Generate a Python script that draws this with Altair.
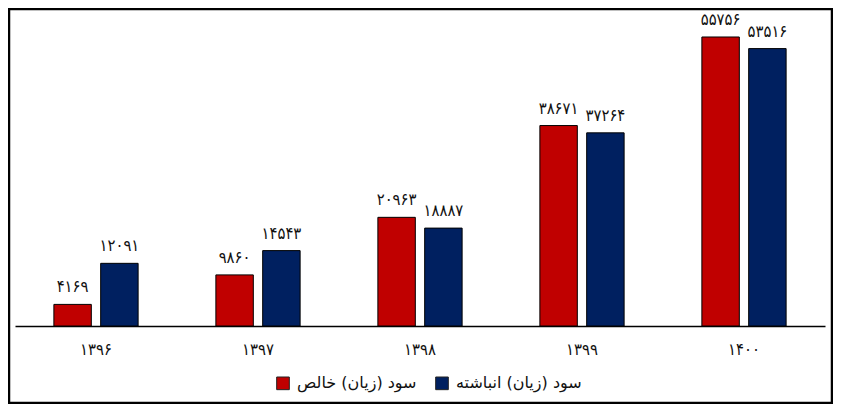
import altair as alt
import pandas as pd

years = ["۱۳۹۶", "۱۳۹۷", "۱۳۹۸", "۱۳۹۹", "۱۴۰۰"]
series_names = ["سود (زیان) خالص", "سود (زیان) انباشته"]
net_profit = [4169, 9860, 20963, 38671, 55756]
accumulated = [12091, 14543, 18887, 37264, 53516]
colors = ["#C00000", "#002060"]

FA = str.maketrans("0123456789", "۰۱۲۳۴۵۶۷۸۹")

rows = []
for i, y in enumerate(years):
    for s, vals in zip(series_names, [net_profit, accumulated]):
        rows.append({"year": y, "series": s, "value": vals[i],
                     "label": str(vals[i]).translate(FA)})
df = pd.DataFrame(rows)

FONT = "DejaVu Sans"
NUMFONT = "DejaVu Sans Condensed"

base = alt.Chart(df).encode(
    x=alt.X("year:N", sort=years,
            scale=alt.Scale(paddingInner=0.48, paddingOuter=0.24),
            axis=alt.Axis(title=None, labelAngle=0, ticks=False, labelPadding=15,
                          labelFontSize=16.5, labelFont=NUMFONT, labelColor="#111",
                          domainColor="#000", domainWidth=1.5, grid=False)),
    xOffset=alt.XOffset("series:N", sort=series_names,
                        scale=alt.Scale(paddingInner=0.2)),
    y=alt.Y("value:Q", scale=alt.Scale(domain=[0, 60000], nice=False),
            axis=None),
)

bars = base.mark_bar(stroke="#000", strokeWidth=1).encode(
    color=alt.Color("series:N", sort=series_names,
                    scale=alt.Scale(domain=series_names, range=colors),
                    legend=alt.Legend(title=None, orient="none", direction="horizontal",
                                      legendX=260, legendY=360,
                                      symbolType="square", symbolSize=160,
                                      symbolStrokeColor="#222", symbolStrokeWidth=1,
                                      labelFont=FONT, labelFontSize=16, labelColor="#111",
                                      labelOffset=6, columnPadding=16))
)

labels = base.mark_text(baseline="alphabetic", dy=-12, fontSize=16.5, font=NUMFONT,
                        color="#111").encode(text="label:N")

frame = alt.Chart(alt.Data(values=[{}])).mark_rect(
    fill=None, stroke="#000", strokeWidth=2.5
).encode(x=alt.value(-6), x2=alt.value(817), y=alt.value(-6), y2=alt.value(388))

chart = alt.layer(bars, labels, frame).properties(
    width=810, height=311,
    autosize=alt.AutoSizeParams(type="none"),
    padding={"left": 7, "top": 7, "right": 8, "bottom": 78},
    background="white",
).configure_view(stroke=None)

chart.save("out.html", embed_options={"renderer": "svg", "actions": False})
